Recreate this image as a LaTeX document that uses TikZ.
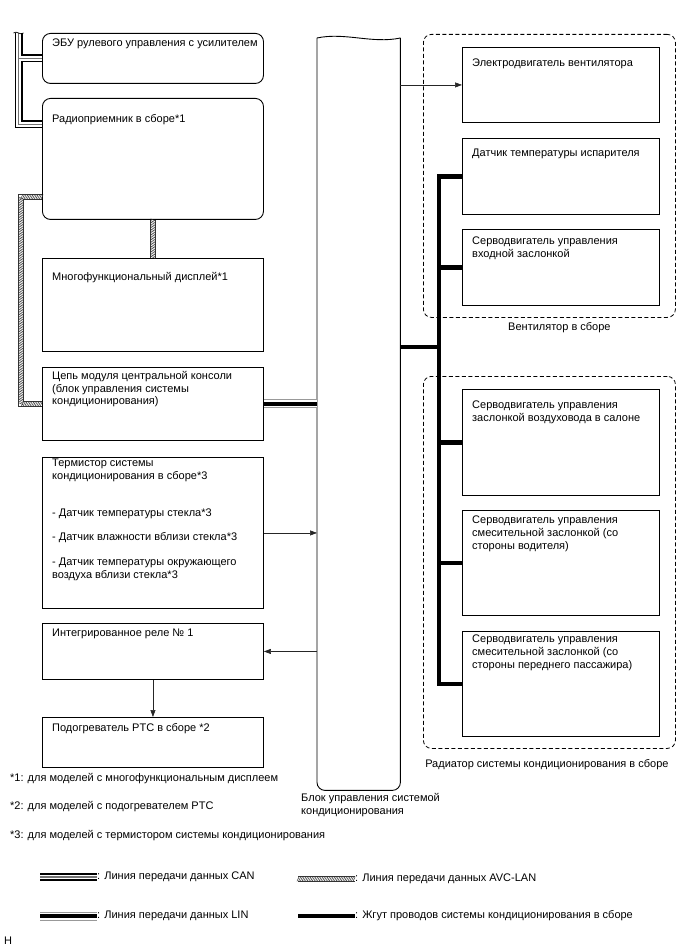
\documentclass[tikz,border=0pt]{standalone}
\usepackage{fontspec}
\setmainfont{Liberation Sans}
\usetikzlibrary{arrows.meta,decorations.markings}

\tikzset{
  box/.style={draw, line width=0.9pt, anchor=north west, inner sep=0pt},
  lbox/.style={box, minimum width=221pt},
  rbox/.style={box, minimum width=197pt},
  txt/.style={anchor=north west, align=left, inner sep=0pt, xshift=10pt, font=\fontsize{11}{12.7}\selectfont},
  note/.style={anchor=west, align=left, inner sep=0pt, font=\fontsize{11}{14}\selectfont},
  group/.style={draw, line width=0.8pt, dash pattern=on 4pt off 2.5pt, rounded corners=8pt, anchor=north west, inner sep=0pt, minimum width=252pt},
  sig/.style={line width=0.6pt, black!85, -{Triangle[length=7pt,width=5pt]}},
  harness/.style={line width=4.5pt},
  can/.style={line width=1.6pt, black!55, preaction={draw, black, line width=8pt}, preaction={draw, white, line width=4.2pt}},
  lin/.style={line width=4.4pt, black, preaction={draw, black!40, line width=9pt}, preaction={draw, white, line width=7pt}},
  avc/.style={preaction={draw, black!80, line width=6pt}, preaction={draw, white, line width=4.6pt}, postaction={decorate},
    decoration={markings, mark=between positions 0 and 1 step 1.7pt with {\draw[line width=0.5pt, black!80] (-1.1pt,-2.3pt) -- (1.1pt,2.3pt);}}},
}

\begin{document}
\begin{tikzpicture}[x=1pt,y=1pt]
  \useasboundingbox (0,0) rectangle (688,-949);

  % left column
  \node[lbox, rounded corners=8pt, minimum height=50pt, label={[txt, yshift=-6pt]north west:ЭБУ рулевого управления с усилителем}] (ecu) at (42,-33) {};
  \node[lbox, rounded corners=8pt, minimum height=121pt, label={[txt, yshift=-16pt]north west:Радиоприемник в сборе*1}] (radio) at (42,-98) {};
  \node[lbox, minimum height=93pt, label={[txt, yshift=-14pt]north west:Многофункциональный дисплей*1}] (display) at (42,-258) {};
  \node[lbox, minimum height=73pt, label={[txt, yshift=-4pt]north west:Цепь модуля центральной консоли\\(блок управления системы\\кондиционирования)}] (module) at (42,-367) {};
  \node[lbox, minimum height=151pt, label={[txt, yshift=-2pt]north west:Термистор системы\\кондиционирования в сборе*3\\[24pt]- Датчик температуры стекла*3\\[12pt]- Датчик влажности вблизи стекла*3\\[12pt]- Датчик температуры окружающего\\воздуха вблизи стекла*3}] (therm) at (42,-457) {};
  \node[lbox, minimum height=56pt, label={[txt, yshift=-6pt]north west:Интегрированное реле № 1}] (relay) at (42,-623) {};
  \node[lbox, minimum height=50pt, label={[txt, yshift=-6pt]north west:Подогреватель PTC в сборе *2}] (heater) at (42,-717) {};

  % air conditioning amplifier
  \node[minimum width=83pt, minimum height=752pt, anchor=north west, inner sep=0pt] (ecuac) at (317,-38) {};
  \draw[line width=0.9pt, rounded corners=8pt] (ecuac.north west) -- (ecuac.south west) -- (ecuac.south east) -- (ecuac.north east);
  \draw[line width=0.9pt] (ecuac.north west) .. controls +(28,6) and +(-28,-6) .. (ecuac.north east);
  \node[txt, xshift=0pt, anchor=north west] (ecuaclbl) at (291,-793) {Блок управления системой\\кондиционирования};

  % right column
  \node[group, minimum height=283pt, label={[txt, anchor=north, yshift=-4pt]south:Вентилятор в сборе}] (fanassy) at (423,-34) {};
  \node[group, minimum height=372pt, label={[txt, anchor=north, xshift=-12.5pt, yshift=-10pt]south:Радиатор системы кондиционирования в сборе}] (radassy) at (423,-376) {};
  \node[rbox, minimum height=75pt, label={[txt, yshift=-12pt]north west:Электродвигатель вентилятора}] (fanmotor) at (462,-47) {};
  \node[rbox, minimum height=76pt, label={[txt, yshift=-11pt]north west:Датчик температуры испарителя}] (evap) at (462,-138) {};
  \node[rbox, minimum height=76pt, label={[txt, yshift=-8pt]north west:Серводвигатель управления\\входной заслонкой}] (intake) at (462,-229) {};
  \node[rbox, minimum height=106pt, label={[txt, yshift=-12pt]north west:Серводвигатель управления\\заслонкой воздуховода в салоне}] (ductservo) at (462,-389) {};
  \node[rbox, minimum height=105pt, label={[txt, yshift=-6pt]north west:Серводвигатель управления\\смесительной заслонкой (со\\стороны водителя)}] (drvservo) at (462,-510) {};
  \node[rbox, minimum height=105pt, label={[txt, yshift=-4pt]north west:Серводвигатель управления\\смесительной заслонкой (со\\стороны переднего пассажира)}] (passservo) at (462,-631) {};

  % buses
  \coordinate (cantop) at (18.5,-33);
  \draw[can] (cantop) |- ([yshift=34.5pt]radio.west) (ecu.west) -- (ecu.west -| cantop);
  \draw[line width=0.7pt] ([xshift=-5pt]cantop) .. controls +(3,3) and +(-3,-3) .. ([xshift=5pt]cantop);
  \path[avc] ([yshift=-38pt]radio.west) -| ([xshift=-21pt]module.west) -- (module.west);
  \path[avc] (radio.south) -- (display.north);
  \draw[lin] (module.east) -- (module.east -| ecuac.west);

  % harness
  \coordinate (hub) at (439,-347);
  \draw[harness] (ecuac.east |- hub) -- (hub);
  \draw[harness] (evap.west) -- (evap.west -| hub) -- (passservo.west -| hub) -- (passservo.west);
  \foreach \n in {intake,ductservo,drvservo}
    \draw[harness] (\n.west) -- (\n.west -| hub);

  % signals
  \draw[sig] (fanmotor.west -| ecuac.east) -- (fanmotor.west);
  \draw[sig] (therm.east) -- (therm.east -| ecuac.west);
  \draw[sig] (relay.east -| ecuac.west) -- (relay.east);
  \draw[sig] (relay.south) -- (heater.north);

  % notes
  \node[note] (n1) at (10,-779) {*1: для моделей с многофункциональным дисплеем};
  \node[note] (n2) at (10,-807) {*2: для моделей с подогревателем PTC};
  \node[note] (n3) at (10,-836) {*3: для моделей с термистором системы кондиционирования};

  % legend
  \coordinate (lgcanA) at (40,-877);
  \coordinate (lglinA) at (40,-916);
  \coordinate (lgavcA) at (298,-879);
  \coordinate (lgharA) at (298,-916);
  \node[note] (lgcan) at (97,-877) {: Линия передачи данных CAN};
  \node[note] (lglin) at (97,-916) {: Линия передачи данных LIN};
  \node[note] (lgavc) at (355,-879) {: Линия передачи данных AVC-LAN};
  \node[note] (lghar) at (355,-916) {: Жгут проводов системы кондиционирования в сборе};
  \draw[can] (lgcanA) -- (lgcan.west);
  \draw[lin] (lglinA) -- (lglin.west);
  \path[avc] (lgavcA) -- (lgavc.west);
  \draw[harness] (lgharA) -- (lghar.west);
  \node[note] (hmark) at (4,-941) {H};
\end{tikzpicture}
\end{document}
